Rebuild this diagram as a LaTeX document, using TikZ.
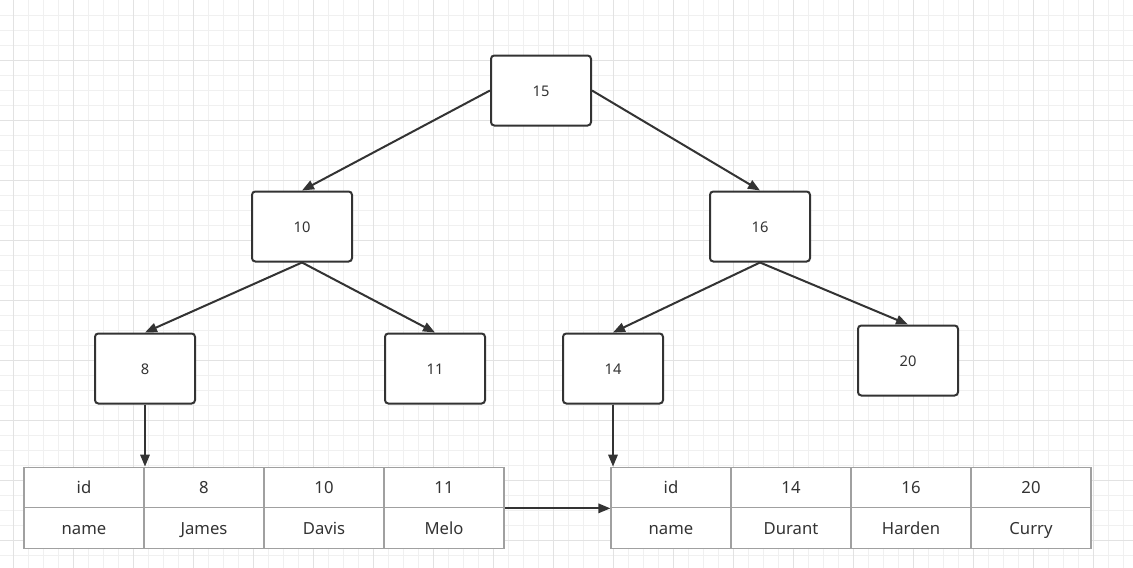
\documentclass[tikz,border=0pt]{standalone}
\usepackage{fontspec}
\setmainfont{Noto Sans}
\usetikzlibrary{arrows.meta}
\definecolor{ink}{HTML}{333333}
\definecolor{gridminor}{HTML}{F0F0F0}
\definecolor{gridmajor}{HTML}{E2E2E2}
\definecolor{cellline}{HTML}{A0A0A0}
\tikzset{
  treebox/.style={draw=ink, line width=1.5pt, fill=white, rounded corners=2.5pt,
    minimum width=75pt, minimum height=52.5pt, inner sep=0pt,
    text height=8.5pt, text depth=0pt,
    font=\fontsize{11}{13}\selectfont, text=ink},
  cell/.style={draw=cellline, line width=0.9pt, fill=white,
    minimum width=90pt, minimum height=30.375pt, inner sep=0pt,
    text height=12pt, text depth=2.6pt,
    font=\fontsize{12.5}{14}\selectfont, text=ink},
  link/.style={draw=ink, line width=1.5pt, -{Triangle[length=9pt,width=7pt]}},
}
\begin{document}
\begin{tikzpicture}[x=0.75pt,y=-0.75pt]
\useasboundingbox (0,0) rectangle (1133,568);
\fill[white] (0,0) rectangle (1133,568);
% grid
\foreach \gx in {13,28,...,1133} \draw[gridminor, line width=0.75pt] (\gx,0) -- (\gx,568);
\foreach \gy in {15,30,...,568} \draw[gridminor, line width=0.75pt] (0,\gy) -- (1133,\gy);
\foreach \gx in {13,73,...,1133} \draw[gridmajor, line width=0.75pt] (\gx,0) -- (\gx,568);
\foreach \gy in {60,120,...,568} \draw[gridmajor, line width=0.75pt] (0,\gy) -- (1133,\gy);
% tree nodes
\node[treebox] (n15) at (541,90.5) {15};
\node[treebox] (n10) at (302,226.5) {10};
\node[treebox] (n16) at (760,226.5) {16};
\node[treebox] (n8) at (145,368.5) {8};
\node[treebox] (n11) at (435,368.5) {11};
\node[treebox] (n14) at (613,368.5) {14};
\node[treebox] (n20) at (908,360.5) {20};
% left table
\node[cell] (la1) at (84,487.5) {id};
\node[cell] (la2) at (204,487.5) {8};
\node[cell] (la3) at (324,487.5) {10};
\node[cell] (la4) at (444,487.5) {11};
\node[cell] (lb1) at (84,528) {name};
\node[cell] (lb2) at (204,528) {James};
\node[cell] (lb3) at (324,528) {Davis};
\node[cell] (lb4) at (444,528) {Melo};
% right table
\node[cell] (ra1) at (671,487.5) {id};
\node[cell] (ra2) at (791,487.5) {14};
\node[cell] (ra3) at (911,487.5) {16};
\node[cell] (ra4) at (1031,487.5) {20};
\node[cell] (rb1) at (671,528) {name};
\node[cell] (rb2) at (791,528) {Durant};
\node[cell] (rb3) at (911,528) {Harden};
\node[cell] (rb4) at (1031,528) {Curry};
% connectors
\draw[link] (n15.west) -- (n10.north);
\draw[link] (n15.east) -- (n16.north);
\draw[link] (n10.south) -- (n8.north);
\draw[link] (n10.south) -- (n11.north);
\draw[link] (n16.south) -- (n14.north);
\draw[link] (n16.south) -- (n20.north);
\draw[link] (n8.south) -- (n8.south |- la2.north);
\draw[link] (n14.south) -- (n14.south |- ra1.north);
\draw[link] (la4.south east) -- (ra1.south west);
\end{tikzpicture}
\end{document}
